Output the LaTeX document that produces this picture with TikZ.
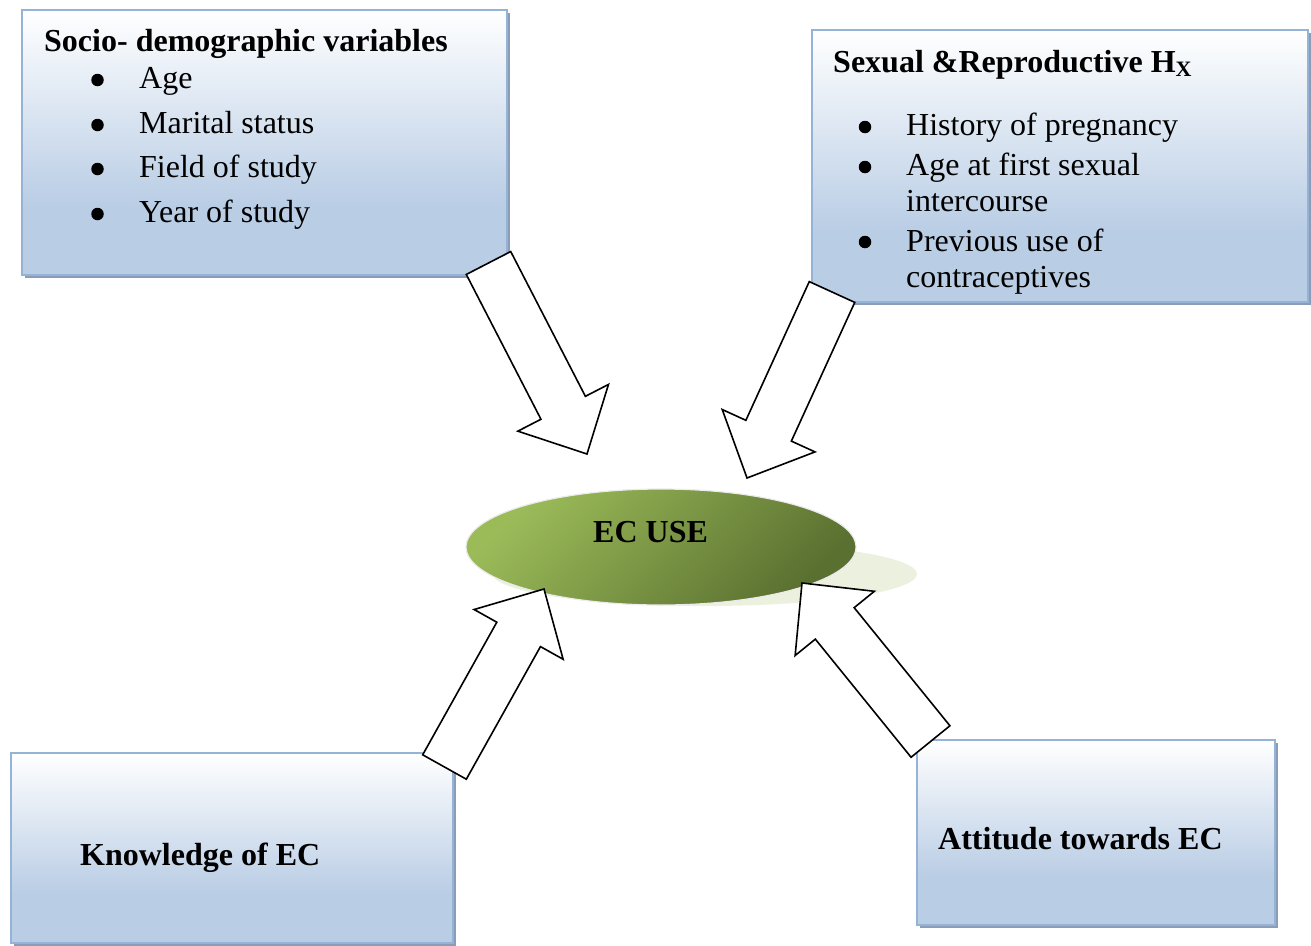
\documentclass[tikz,border=0pt]{standalone}
\usepackage{fontspec}
\setmainfont{Liberation Serif}
\usepackage{tikz}
\usetikzlibrary{shapes.geometric, calc, shadows}
\definecolor{boxblue}{HTML}{B9CDE5}
\definecolor{boxline}{HTML}{95B3D7}
\definecolor{boxshadow}{HTML}{8B9DB6}
\definecolor{eclight}{HTML}{9BBB59}
\definecolor{ecdark}{HTML}{5A7030}
\definecolor{ecshade}{HTML}{EBF1DE}
\pgfdeclareverticalshading{boxfade}{100bp}{color(0bp)=(boxblue); color(38bp)=(boxblue); color(75bp)=(white); color(100bp)=(white)}
\tikzset{
  factor/.style={draw=boxline, line width=1.6pt, shade, shading=boxfade, inner sep=0pt,
    drop shadow={shadow xshift=3pt, shadow yshift=-3pt, fill=boxshadow, opacity=1}},
  hd/.style={font=\fontsize{32}{36}\selectfont\bfseries, anchor=base west, inner sep=0pt},
  item/.style={font=\fontsize{32}{36}\selectfont, anchor=base west, inner sep=0pt, align=left},
  dot/.style={circle, fill=black, inner sep=0pt, minimum size=12.5pt},
  ecell/.style={ellipse, draw=black!8, line width=1.2pt, top color=eclight, bottom color=ecdark,
    shading angle=45, minimum width=390pt, minimum height=116pt, inner sep=0pt},
  ecshadow/.style={ellipse, fill=ecshade, minimum width=424pt, minimum height=64pt, inner sep=0pt},
  bigarrow/.style={draw=black, fill=white, line width=1.6pt, line join=miter,
    to path={-- ($(\tikztostart)!25pt!90:(\tikztotarget)$)
             -- ($(\tikztotarget)!52pt!(\tikztostart)!25pt!90:(\tikztotarget)$)
             -- ($(\tikztotarget)!52pt!(\tikztostart)!51pt!90:(\tikztotarget)$)
             -- (\tikztotarget)
             -- ($(\tikztotarget)!52pt!(\tikztostart)!51pt!-90:(\tikztotarget)$)
             -- ($(\tikztotarget)!52pt!(\tikztostart)!25pt!-90:(\tikztotarget)$)
             -- ($(\tikztostart)!25pt!-90:(\tikztotarget)$) -- cycle}},
}

\begin{document}
\begin{tikzpicture}[x=1pt, y=-1pt]
  \useasboundingbox (0,0) rectangle (1311,945);
  % boxes
  \node[factor, minimum width=485pt, minimum height=265pt] (socio) at (264.5,142.5) {};
  \node[factor, minimum width=496pt, minimum height=272pt] (srh) at (1060,166) {};
  \node[factor, minimum width=442pt, minimum height=190pt] (know) at (232,848) {};
  \node[factor, minimum width=358pt, minimum height=185pt] (att) at (1096,832.5) {};

  \node[hd] (sociohd) at (44,51) {Socio- demographic variables};
  \foreach \y/\t [count=\i] in {88/Age, 133/Marital status, 177/Field of study, 222/Year of study} {
    \node[dot] (sdb\i) at (97.5,\y-8) {};
    \node[item] (sd\i) at (139,\y) {\t};
  }

  \node[hd] (srhhd) at (833,72) {Sexual \&Reproductive H\raisebox{-4pt}{\fontsize{22}{22}\selectfont X}};
  % multi-line items sit on their last baseline
  \foreach \yb/\yt/\t [count=\i] in {135/135/History of pregnancy, 175/211/{Age at first sexual\\intercourse}, 250/287/{Previous use of\\contraceptives}} {
    \node[dot] (srb\i) at (865,\yb-8) {};
    \node[item] (sr\i) at (906,\yt) {\t};
  }

  \node[hd] (knowhd) at (80,865) {Knowledge of EC};
  \node[hd] (atthd) at (938,849) {Attitude towards EC};

  % outcome
  \node[ecshadow] (ecshd) at (705,574) {};
  \node[ecell] (ecuse) at (661,547) {};
  \node[hd] (ectxt) at (593,542) {EC USE};

  % block arrows
  \coordinate (sdTail) at (488.5,263);   \coordinate (sdTip) at (587,454);
  \coordinate (srTail) at (832,292);     \coordinate (srTip) at (747,478);
  \coordinate (knTail) at (444.5,767);   \coordinate (knTip) at (544,589);
  \coordinate (atTail) at (930.5,741.5); \coordinate (atTip) at (802,583);
  \draw[bigarrow] (sdTail) to (sdTip);
  \draw[bigarrow] (srTail) to (srTip);
  \draw[bigarrow] (knTail) to (knTip);
  \draw[bigarrow] (atTail) to (atTip);
\end{tikzpicture}
\end{document}
